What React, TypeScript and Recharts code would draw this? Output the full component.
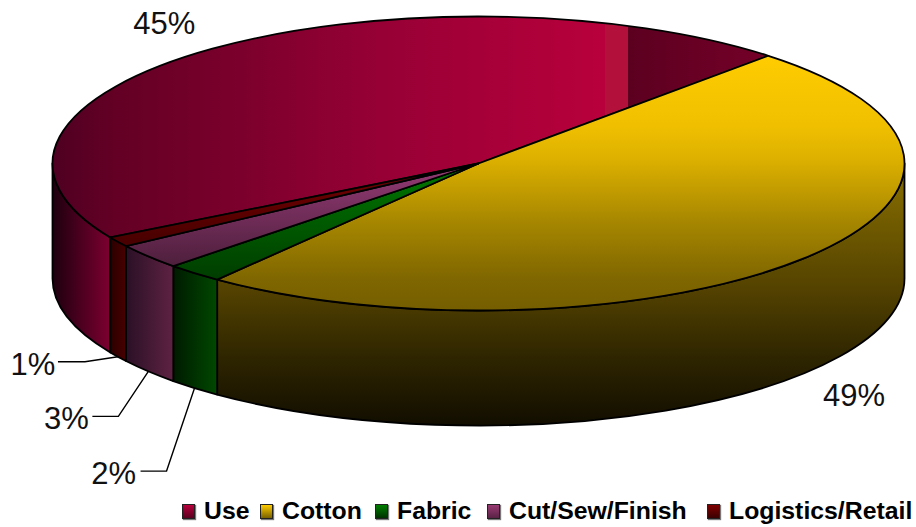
import React from "react";
import { PieChart, Pie, Legend } from "recharts";

const categories = ["Use", "Cotton", "Fabric", "Cut/Sew/Finish", "Logistics/Retail"];
const shares = [45.3, 48.6, 2.2, 2.8, 1.1];
const rows = categories.map((name, i) => ({ name, value: shares[i] }));

const W = 916, H = 527;
const CX = 478.5, CY = 163.5, RX = 426, RY = 147, DEPTH = 115;
const START = 210.2;
const FONT = "'Liberation Sans', Arial, sans-serif";
const RAD = Math.PI / 180;

const idOf = (name: string) => categories.indexOf(name);

const labelLayout: Record<string, { dx: number; dy: number; wall: boolean; elbow?: [number, number]; end?: [number, number] }> = {
  Use: { dx: -48, dy: -25, wall: false },
  Cotton: { dx: 51, dy: 22, wall: true },
  Fabric: { dx: -81, dy: 85, wall: true, elbow: [-28, 83], end: [-54, 83] },
  "Cut/Sew/Finish": { dx: -82, dy: 47, wall: true, elbow: [-30, 45], end: [-56, 45] },
  "Logistics/Retail": { dx: -85, dy: 8, wall: true, elbow: [-33, 5], end: [-60, 5] },
};

const legendSwatch: Record<string, [string, string]> = {
  Use: ["#b8003c", "#5a0020"],
  Cotton: ["#ffcc00", "#7a6200"],
  Fabric: ["#008000", "#003000"],
  "Cut/Sew/Finish": ["#993a73", "#5a2245"],
  "Logistics/Retail": ["#800000", "#3a0000"],
};

const legendSlot: Record<string, number> = {
  Use: 78,
  Cotton: 115,
  Fabric: 112,
  "Cut/Sew/Finish": 220,
  "Logistics/Retail": 209,
};

const pt = (a: number, depth = 0) => [
  CX + RX * Math.cos(a * RAD),
  CY - RY * Math.sin(a * RAD) + depth,
];

function Sector3D(props: any) {
  const { startAngle, endAngle, name, payload } = props;
  const label = name ?? payload?.name;
  const i = idOf(label);
  const hi0 = Math.max(startAngle, endAngle);
  const lo0 = Math.min(startAngle, endAngle);
  const [sx, sy] = pt(hi0);
  const [ex, ey] = pt(lo0);
  const large = hi0 - lo0 > 180 ? 1 : 0;
  const top = `M${CX},${CY} L${sx},${sy} A${RX},${RY} 0 ${large} 1 ${ex},${ey} Z`;
  const walls: string[] = [];
  for (const s of [0, 360]) {
    const hi = Math.min(hi0, s);
    const lo = Math.max(lo0, s - 180);
    if (hi > lo) {
      const [ax, ay] = pt(hi);
      const [bx, by] = pt(lo);
      const [cx2, cy2] = pt(lo, DEPTH);
      const [dx, dy] = pt(hi, DEPTH);
      walls.push(`M${ax},${ay} A${RX},${RY} 0 0 1 ${bx},${by} L${cx2},${cy2} A${RX},${RY} 0 0 0 ${dx},${dy} Z`);
    }
  }
  return (
    <g>
      {walls.map((d, k) => (
        <path key={k} d={d} fill={`url(#wall${i})`} stroke="#000" strokeWidth={1.8} strokeLinejoin="round" />
      ))}
      <path d={top} fill={`url(#top${i})`} stroke="#000" strokeWidth={1.8} strokeLinejoin="round" />
    </g>
  );
}

function SliceLabel(props: any) {
  const { midAngle, percent, name, payload } = props;
  const label = name ?? payload?.name;
  const l = labelLayout[label];
  if (!l) return null;
  const [ax, ay] = pt(midAngle, l.wall ? DEPTH : 0);
  return (
    <g>
      {l.elbow && l.end && (
        <polyline
          points={`${ax},${ay} ${ax + l.elbow[0]},${ay + l.elbow[1]} ${ax + l.end[0]},${ay + l.end[1]}`}
          fill="none"
          stroke="#000"
          strokeWidth={1.4}
        />
      )}
      <text
        x={ax + l.dx}
        y={ay + l.dy}
        textAnchor="middle"
        dominantBaseline="central"
        fontFamily={FONT}
        fontSize={31}
        fill="#111"
        stroke="none"
      >
        {`${Math.round(percent * 100)}%`}
      </text>
    </g>
  );
}

function LegendRow({ payload }: any) {
  const byName = new Map((payload || []).map((e: any) => [e.value, e]));
  return (
    <div style={{ display: "flex", alignItems: "center", whiteSpace: "nowrap", fontFamily: FONT, fontWeight: 700, fontSize: 24.8, color: "#000", lineHeight: "28px" }}>
      {categories.filter((c) => byName.has(c)).map((name) => {
        const [a, b] = legendSwatch[name];
        return (
          <span key={name} style={{ display: "inline-flex", alignItems: "center", width: legendSlot[name], flex: "none" }}>
            <span style={{ width: 11, height: 13, marginRight: 9, border: "1.5px solid #222", boxShadow: "1px 1px 1px #777", background: `linear-gradient(${a}, ${b})`, display: "inline-block", flex: "none" }} />
            {name}
          </span>
        );
      })}
    </div>
  );
}

const Grad = ({ id, v, stops, from, to }: any) => (
  <linearGradient id={id} gradientUnits="userSpaceOnUse" x1={v ? 0 : from} x2={v ? 0 : to} y1={v ? from : 0} y2={v ? to : 0}>
    {stops.map(([o, c]: [number, string], k: number) => (
      <stop key={k} offset={o} stopColor={c} />
    ))}
  </linearGradient>
);

export default function App() {
  return (
    <div style={{ position: "absolute", left: 0, top: 0, width: W, height: H }}>
      <PieChart width={W} height={H} margin={{ top: 0, right: 0, bottom: 0, left: 0 }}>
        <defs>
          <Grad id="top0" from={52} to={765} stops={[[0, "#4e0022"], [0.08, "#620024"], [0.21, "#740029"], [0.43, "#930034"], [0.6, "#a60038"], [0.776, "#b8003c"], [0.776, "#b3103c"], [0.808, "#b3103c"], [0.808, "#5c0020"], [1, "#740028"]]} />
          <Grad id="wall0" from={52} to={110} stops={[[0, "#1c000e"], [1, "#7c0030"]]} />
          <Grad id="top1" v from={56} to={310} stops={[[0, "#ffcc00"], [0.27, "#f0c000"], [0.41, "#dcb000"], [0.645, "#a88800"], [0.88, "#7f6600"], [1, "#755e00"]]} />
          <Grad id="wall1" v from={165} to={425} stops={[[0, "#8a7000"], [0.45, "#574500"], [0.75, "#2d2400"], [1, "#120e00"]]} />
          <Grad id="top2" v from={163} to={280} stops={[[0, "#007a00"], [1, "#003c00"]]} />
          <Grad id="wall2" from={173} to={217} stops={[[0, "#001a00"], [1, "#004800"]]} />
          <Grad id="top3" v from={163} to={265} stops={[[0, "#963c76"], [1, "#4e1f3d"]]} />
          <Grad id="wall3" from={126} to={173} stops={[[0, "#2a1026"], [1, "#5e2242"]]} />
          <Grad id="top4" v from={163} to={240} stops={[[0, "#7a0000"], [1, "#4a0000"]]} />
          <Grad id="wall4" from={110} to={126} stops={[[0, "#2a0000"], [1, "#480000"]]} />
        </defs>
        <Pie
          data={rows}
          dataKey="value"
          nameKey="name"
          cx={CX}
          cy={CY}
          innerRadius={0}
          outerRadius={RX}
          startAngle={START}
          endAngle={START - 360}
          paddingAngle={0}
          stroke="none"
          isAnimationActive={false}
          shape={Sector3D}
          label={SliceLabel}
          labelLine={false}
        />
        <Legend
          content={LegendRow}
          wrapperStyle={{ position: "absolute", left: 182, top: 497, width: 734, bottom: "auto", right: "auto" }}
        />
      </PieChart>
    </div>
  );
}
